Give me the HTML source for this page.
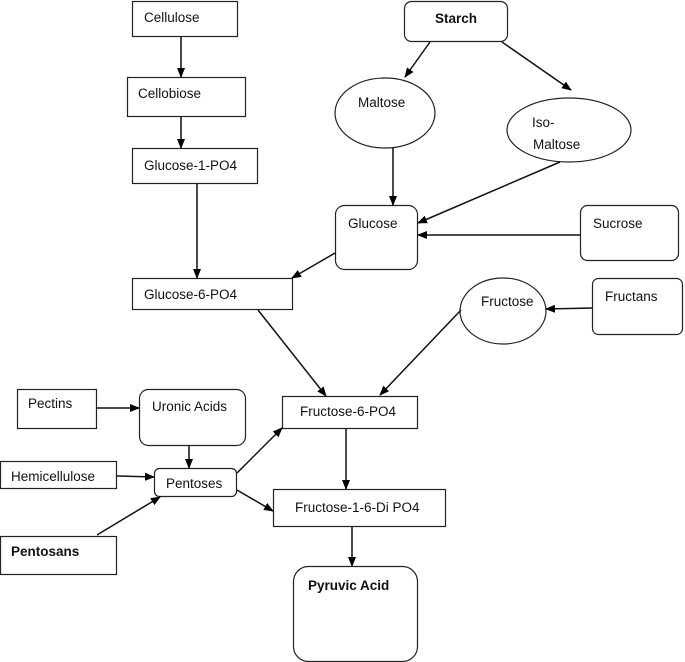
<!DOCTYPE html>
<html><head><style>body{margin:0;background:#fff}svg{display:block}</style></head><body>
<svg width="685" height="662" viewBox="0 0 685 662" xmlns="http://www.w3.org/2000/svg" font-family="Liberation Sans, sans-serif" font-size="13.5">
<defs><marker id="a" markerWidth="10" markerHeight="10" refX="9" refY="5" orient="auto" markerUnits="userSpaceOnUse"><path d="M0,1 L10,5 L0,9 z" fill="#000"/></marker></defs>
<g fill="#fff" stroke="#222" stroke-width="1.2">
<rect x="132.5" y="1.5" width="105" height="35"/>
<rect x="127.5" y="77.5" width="118" height="39"/>
<rect x="132.5" y="148.5" width="125" height="35"/>
<rect x="132.5" y="278.5" width="160" height="31"/>
<rect x="404.5" y="1.5" width="103" height="40" rx="7"/>
<ellipse cx="385" cy="113" rx="50" ry="35"/>
<ellipse cx="569" cy="130" rx="62" ry="32"/>
<rect x="335.5" y="205.5" width="82" height="64" rx="9"/>
<rect x="580.5" y="205.5" width="98" height="55" rx="7"/>
<rect x="592.5" y="278.5" width="90" height="56" rx="6"/>
<ellipse cx="503" cy="311" rx="43" ry="33"/>
<rect x="17.5" y="389.5" width="79" height="39"/>
<rect x="139.5" y="389.5" width="106" height="56" rx="9"/>
<rect x="0.5" y="461.5" width="116" height="27"/>
<rect x="154.5" y="468.5" width="82" height="28" rx="5"/>
<rect x="0.5" y="536.5" width="116" height="38"/>
<rect x="282.5" y="396.5" width="135" height="32"/>
<rect x="273.5" y="489.5" width="172" height="37"/>
<rect x="293.5" y="566.5" width="124" height="95" rx="15"/>
</g>
<g stroke="#111" stroke-width="1.5" marker-end="url(#a)">
<line x1="181" y1="37" x2="181" y2="77"/>
<line x1="181" y1="117" x2="181" y2="148"/>
<line x1="197" y1="184" x2="197" y2="278"/>
<line x1="430" y1="42" x2="405" y2="77"/>
<line x1="502" y1="42" x2="571" y2="90"/>
<line x1="393" y1="148" x2="393" y2="205"/>
<line x1="560" y1="162" x2="418" y2="223"/>
<line x1="580" y1="235" x2="418" y2="235"/>
<line x1="335" y1="253" x2="292" y2="278"/>
<line x1="258" y1="310" x2="326" y2="396"/>
<line x1="461" y1="310" x2="380" y2="395"/>
<line x1="592" y1="308" x2="546" y2="309"/>
<line x1="96" y1="408" x2="139" y2="408"/>
<line x1="189" y1="445" x2="189" y2="468"/>
<line x1="117" y1="476" x2="154" y2="477"/>
<line x1="97" y1="535" x2="160" y2="497"/>
<line x1="237" y1="473" x2="282" y2="428"/>
<line x1="237" y1="490" x2="273" y2="511"/>
<line x1="346" y1="429" x2="346" y2="489"/>
<line x1="352" y1="527" x2="352" y2="566"/>
</g>
<g fill="#111">
<text x="144" y="22">Cellulose</text>
<text x="138" y="98">Cellobiose</text>
<text x="144" y="170">Glucose-1-PO4</text>
<text x="144" y="299">Glucose-6-PO4</text>
<text x="435" y="23" font-weight="bold">Starch</text>
<text x="358" y="107">Maltose</text>
<text x="532" y="127">Iso-</text>
<text x="533" y="149">Maltose</text>
<text x="348" y="228">Glucose</text>
<text x="593" y="228">Sucrose</text>
<text x="605" y="301">Fructans</text>
<text x="481" y="306">Fructose</text>
<text x="28" y="408">Pectins</text>
<text x="152" y="411">Uronic Acids</text>
<text x="11" y="481">Hemicellulose</text>
<text x="166" y="488">Pentoses</text>
<text x="11" y="556" font-weight="bold">Pentosans</text>
<text x="300" y="416">Fructose-6-PO4</text>
<text x="295" y="512">Fructose-1-6-Di PO4</text>
<text x="308" y="590" font-weight="bold">Pyruvic Acid</text>
</g>
</svg>
</body></html>
